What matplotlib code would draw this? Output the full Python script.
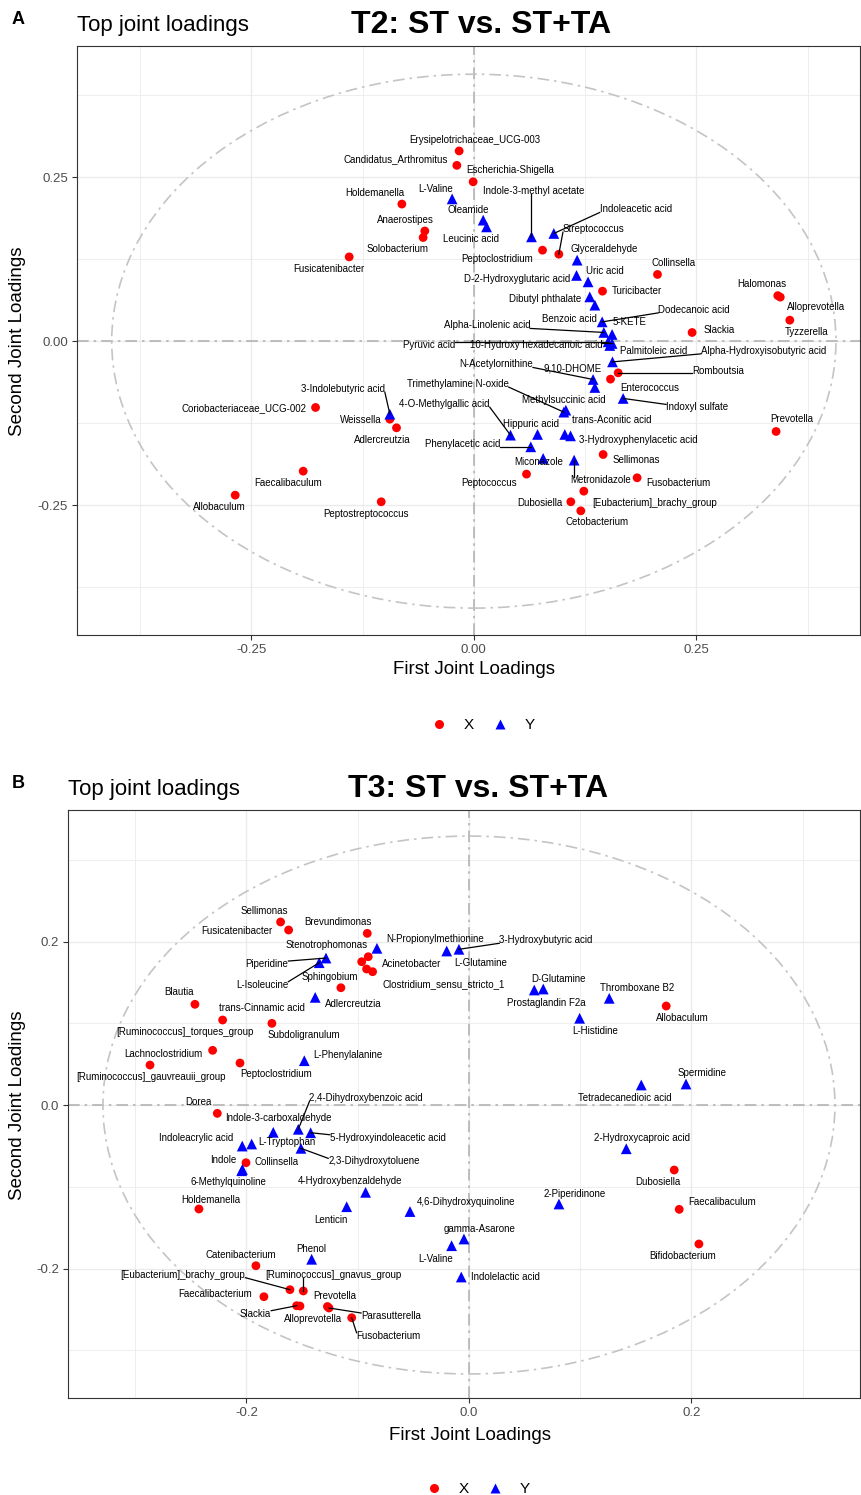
import numpy as np
import matplotlib
matplotlib.use("Agg")
import matplotlib.pyplot as plt
from matplotlib.lines import Line2D
from matplotlib.patches import Ellipse

plt.rcParams['font.family'] = ['Liberation Sans', 'DejaVu Sans']

# ---------------- Panel A: T2 ----------------
a_x_names = ['Erysipelotrichaceae_UCG-003', 'Candidatus_Arthromitus', 'Escherichia-Shigella',
             'Holdemanella', 'Anaerostipes', 'Solobacterium', 'Fusicatenibacter', 'Streptococcus',
             'Peptoclostridium', 'Collinsella', 'Turicibacter', 'Halomonas', 'Alloprevotella',
             'Tyzzerella', 'Slackia', 'Romboutsia', 'Enterococcus', 'Coriobacteriaceae_UCG-002',
             'Weissella', 'Adlercreutzia', 'Faecalibaculum', 'Allobaculum', 'Peptostreptococcus',
             'Peptococcus', 'Prevotella', 'Sellimonas', 'Fusobacterium',
             '[Eubacterium]_brachy_group', 'Dubosiella', 'Cetobacterium']
a_x_comp1 = [-0.0165, -0.0191, -0.0008, -0.0809, -0.0551, -0.0570, -0.1401, 0.0955,
             0.0772, 0.2064, 0.1446, 0.3416, 0.3444, 0.3551, 0.2453, 0.1622, 0.1536, -0.1779,
             -0.0944, -0.0869, -0.1918, -0.2682, -0.1041, 0.0592, 0.3397, 0.1453, 0.1835,
             0.1236, 0.1090, 0.1202]
a_x_comp2 = [0.290, 0.268, 0.243, 0.209, 0.168, 0.158, 0.1285, 0.1326,
             0.1387, 0.1017, 0.0762, 0.0694, 0.0671, 0.0320, 0.0132, -0.0483, -0.0579, -0.1011,
             -0.1189, -0.1321, -0.1982, -0.2348, -0.2449, -0.2027, -0.1377, -0.1728, -0.2083,
             -0.2287, -0.2449, -0.2587]

a_y_names = ['L-Valine', 'Oleamide', 'Leucinic acid', 'Indole-3-methyl acetate', 'Indoleacetic acid',
             'Glyceraldehyde', 'D-2-Hydroxyglutaric acid', 'Uric acid', 'Dibutyl phthalate',
             'Benzoic acid', 'Dodecanoic acid', 'Alpha-Linolenic acid', '5-KETE', 'Pyruvic acid',
             '10-Hydroxy hexadecanoic acid', 'Palmitoleic acid', 'Alpha-Hydroxyisobutyric acid',
             'N-Acetylornithine', '9,10-DHOME', 'Indoxyl sulfate', 'Trimethylamine N-oxide',
             'Methylsuccinic acid', '3-Indolebutyric acid', '4-O-Methylgallic acid', 'Hippuric acid',
             'trans-Aconitic acid', '3-Hydroxyphenylacetic acid', 'Phenylacetic acid', 'Miconazole',
             'Metronidazole']
a_y_comp1 = [-0.0244, 0.0105, 0.0143, 0.0648, 0.0899, 0.1161, 0.1154, 0.1284, 0.1303,
             0.1360, 0.1442, 0.1461, 0.1554, 0.1509, 0.1554, 0.1528, 0.1558, 0.1340, 0.1360,
             0.1678, 0.1011, 0.1034, -0.0944, 0.0412, 0.0716, 0.1022, 0.1087, 0.0640, 0.0779,
             0.1127]
a_y_comp2 = [0.2169, 0.1845, 0.1742, 0.1590, 0.1642, 0.1235, 0.1002, 0.0904, 0.0675,
             0.0549, 0.0294, 0.0133, 0.0102, -0.0010, -0.0035, -0.0066, -0.0316, -0.0584, -0.0706,
             -0.0873, -0.1082, -0.1052, -0.1113, -0.1433, -0.1422, -0.1422, -0.1444, -0.1611,
             -0.1788, -0.1814]

# label offsets (pixels, right / down) as placed by ggrepel
a_x_lab_dx = [16, -61, 37, -27, -19, -26, -20, 35, -45, 16, 34, -16, 36, 17, 27, 100, 39, -72,
              -29, -14, -15, -16, -15, -37, 16, 33, 41, 71, -31, 16]
a_x_lab_dy = [-11, -6, -12, -11, -11, 11, 12, -25, 9, -11, 0, -12, 10, 12, -2, -2, 9, 1,
              1, 12, 12, 12, 12, 9, -12, 6, 5, 12, 1, 11]
a_y_lab_dx = [-17, -15, -16, 2, 82, 27, -59, 17, -45, -25, 92, -117, 17, -179, -76, 44, 151,
              -97, -22, 74, -106, -2, -47, -66, -7, 47, 68, -68, -4, 27]
a_y_lab_dy = [-10, -10, 12, -46, -24, -11, 4, -11, 2, 14, -12, -7, -12, 3, 2, 6, -11,
              -15, -19, 9, -28, -10, -25, -31, -10, -14, 4, -3, 4, 20]
a_segments = ['Streptococcus', 'Romboutsia', 'Indole-3-methyl acetate', 'Indoleacetic acid',
              'Dodecanoic acid', 'Alpha-Linolenic acid', 'Pyruvic acid',
              '10-Hydroxy hexadecanoic acid', 'Alpha-Hydroxyisobutyric acid', 'N-Acetylornithine',
              'Indoxyl sulfate', 'Trimethylamine N-oxide', '3-Indolebutyric acid',
              '4-O-Methylgallic acid', 'Phenylacetic acid', 'Metronidazole']

# ---------------- Panel B: T3 ----------------
b_x_names = ['Sellimonas', 'Fusicatenibacter', 'Brevundimonas', 'Stenotrophomonas', 'Acinetobacter',
             'Sphingobium', 'Clostridium_sensu_stricto_1', 'Adlercreutzia', 'Blautia',
             '[Ruminococcus]_torques_group', 'Subdoligranulum', 'Lachnoclostridium',
             '[Ruminococcus]_gauvreauii_group', 'Peptoclostridium', 'Dorea', 'Collinsella',
             'Holdemanella', 'Catenibacterium', '[Eubacterium]_brachy_group',
             '[Ruminococcus]_gnavus_group', 'Faecalibacterium', 'Prevotella', 'Slackia',
             'Alloprevotella', 'Parasutterella', 'Fusobacterium', 'Allobaculum', 'Dubosiella',
             'Faecalibaculum', 'Bifidobacterium']
b_x_comp1 = [-0.1693, -0.1621, -0.0914, -0.0964, -0.0905, -0.0920, -0.0866, -0.1151, -0.2463,
             -0.2214, -0.1771, -0.2304, -0.2867, -0.2058, -0.2262, -0.2004, -0.2427, -0.1915,
             -0.1609, -0.1489, -0.1843, -0.1272, -0.1549, -0.1519, -0.1258, -0.1054, 0.1773,
             0.1845, 0.1890, 0.2067]
b_x_comp2 = [0.2239, 0.2141, 0.2100, 0.1753, 0.1814, 0.1664, 0.1631, 0.1435, 0.1232,
             0.1040, 0.0999, 0.0669, 0.0489, 0.0514, -0.0102, -0.0706, -0.1272, -0.1966,
             -0.2259, -0.2275, -0.2345, -0.2465, -0.2455, -0.2459, -0.2483, -0.2602, 0.1211,
             -0.0795, -0.1276, -0.1700]

b_y_names = ['N-Propionylmethionine', 'L-Glutamine', '3-Hydroxybutyric acid', 'Piperidine',
             'L-Isoleucine', 'trans-Cinnamic acid', 'L-Phenylalanine', 'D-Glutamine',
             'Prostaglandin F2a', 'Thromboxane B2', 'L-Histidine', 'Spermidine',
             'Tetradecanedioic acid', '2,4-Dihydroxybenzoic acid', 'Indole-3-carboxaldehyde',
             '5-Hydroxyindoleacetic acid', 'Indoleacrylic acid', 'L-Tryptophan',
             '2,3-Dihydroxytoluene', 'Indole', '6-Methylquinoline', '4-Hydroxybenzaldehyde',
             '2-Hydroxycaproic acid', '2-Piperidinone', 'Lenticin', '4,6-Dihydroxyquinoline',
             'gamma-Asarone', 'L-Valine', 'Indolelactic acid', 'Phenol']
b_y_comp1 = [-0.0827, -0.0200, -0.0090, -0.1285, -0.1346, -0.1382, -0.1480, 0.0668,
             0.0587, 0.1261, 0.0995, 0.1951, 0.1549, -0.1534, -0.1759, -0.1423, -0.2038, -0.1953,
             -0.1510, -0.2043, -0.2036, -0.0929, 0.1414, 0.0809, -0.1099, -0.0530, -0.0045,
             -0.0156, -0.0069, -0.1414]
b_y_comp2 = [0.1917, 0.1884, 0.1905, 0.1798, 0.1741, 0.1317, 0.0542, 0.1419,
             0.1407, 0.1305, 0.1061, 0.0257, 0.0245, -0.0297, -0.0334, -0.0339, -0.0502, -0.0477,
             -0.0530, -0.0804, -0.0789, -0.1068, -0.0535, -0.1211, -0.1244, -0.1303, -0.1639,
             -0.1721, -0.2104, -0.1887]

b_x_lab_dx = [-16, -52, -29, -35, 43, -37, 71, 12, -16, -38, 32, -49, 1, 36, -19, 31, 12, -15,
              -107, 30, -49, 7, -41, 13, 62, 37, 16, -16, 43, -16]
b_x_lab_dy = [-11, 1, -11, -17, 7, 8, 12, 16, -12, 12, 12, 4, 12, 11, -11, -1, -9, -11,
              -15, -16, -3, -11, 8, 13, 8, 18, 12, 12, -7, 12]
b_y_lab_dx = [58, 34, 87, -59, -57, -53, 44, 15, 12, 28, 16, 16, -16, 68, 5, 77, -46, 35,
              73, -18, -14, -16, 16, 16, -16, 56, 16, -16, 44, 0]
b_y_lab_dy = [-9, 12, -9, 6, 22, 11, -6, -10, 13, -10, 13, -11, 13, -31, -14, 5, -8, -2,
              13, -11, 12, -11, -11, -10, 13, -10, -10, 13, 0, -10]
b_segments = ['[Eubacterium]_brachy_group', '[Ruminococcus]_gnavus_group', 'Slackia',
              'Parasutterella', 'Fusobacterium', '3-Hydroxybutyric acid', 'Piperidine',
              'L-Isoleucine', '2,4-Dihydroxybenzoic acid', '5-Hydroxyindoleacetic acid',
              '2,3-Dihydroxytoluene']

W, H = 861, 1495
fig = plt.figure(figsize=(W / 100, H / 100), dpi=100)


def fx(px):
    return px / W


def fy(py):
    return 1 - py / H


seg_jobs = []


def draw_panel(ax, xlim, ylim, major, minor, fmt, radius, blocks, seg_names):
    ax.set_xlim(xlim)
    ax.set_ylim(ylim)
    ax.set_xticks(major)
    ax.set_yticks(major)
    ax.set_xticks(minor, minor=True)
    ax.set_yticks(minor, minor=True)
    labs = [fmt.format(t) for t in major]
    ax.set_xticklabels(labs)
    ax.set_yticklabels(labs)
    ax.grid(which='major', color='#EBEBEB', lw=1.0)
    ax.grid(which='minor', color='#EBEBEB', lw=0.6)
    ax.set_axisbelow(True)
    ax.tick_params(which='minor', length=0)
    ax.tick_params(which='major', length=3.5, width=0.8, color='#333333',
                   labelsize=9.5, labelcolor='#4D4D4D', pad=3)
    for sp in ax.spines.values():
        sp.set_color('#333333')
        sp.set_linewidth(0.8)

    ax.axhline(0, color='#B3B3B3', lw=1.2, ls=(0, (7, 3, 1.5, 3)), zorder=1)
    ax.axvline(0, color='#B3B3B3', lw=1.2, ls=(0, (7, 3, 1.5, 3)), zorder=1)
    ax.add_patch(Ellipse((0, 0), 2 * radius, 2 * radius, fill=False, ec='#C4C4C4',
                         lw=1.2, ls=(0, (7, 3, 1.5, 3)), zorder=1))

    for names, c1, c2, ldx, ldy, col, mk, sz in blocks:
        ax.scatter(c1, c2, s=sz, c=col, marker=mk, edgecolors='none', zorder=3)
        for n, x, y, dx, dy in zip(names, c1, c2, ldx, ldy):
            t = ax.annotate(n, (x, y), xytext=(dx, -dy), textcoords='offset pixels',
                            ha='center', va='center', fontsize=7, color='black', zorder=5)
            if n in seg_names:
                seg_jobs.append((ax, t, x, y))


axA = fig.add_axes([fx(77), fy(635), fx(860 - 77), (635 - 46) / H])
draw_panel(axA, (-0.446, 0.434), (-0.448, 0.450), [-0.25, 0.0, 0.25],
           [-0.375, -0.125, 0.125, 0.375], '{:.2f}', 0.407,
           [(a_x_names, a_x_comp1, a_x_comp2, a_x_lab_dx, a_x_lab_dy, 'red', 'o', 40),
            (a_y_names, a_y_comp1, a_y_comp2, a_y_lab_dx, a_y_lab_dy, 'blue', '^', 60)],
           a_segments)

axB = fig.add_axes([fx(68), fy(1398), fx(860 - 68), (1398 - 810) / H])
draw_panel(axB, (-0.3604, 0.3515), (-0.3584, 0.3609), [-0.2, 0.0, 0.2],
           [-0.3, -0.1, 0.1, 0.3], '{:.1f}', 0.329,
           [(b_x_names, b_x_comp1, b_x_comp2, b_x_lab_dx, b_x_lab_dy, 'red', 'o', 40),
            (b_y_names, b_y_comp1, b_y_comp2, b_y_lab_dx, b_y_lab_dy, 'blue', '^', 60)],
           b_segments)

# repel-style segments: from the point to the nearest edge of its label
fig.canvas.draw()
renderer = fig.canvas.get_renderer()
for ax, t, x, y in seg_jobs:
    bb = t.get_window_extent(renderer)
    px, py = ax.transData.transform((x, y))
    qx = min(max(px, bb.x0), bb.x1)
    qy = min(max(py, bb.y0 + 2), bb.y1 - 2)
    inv = ax.transData.inverted()
    (x0, y0), (x1, y1) = inv.transform([(px, py), (qx, qy)])
    ax.plot([x0, x1], [y0, y1], color='black', lw=0.9, zorder=4)

# titles, axis titles and legends
for top, letter, lx, tx in [(0, 'A', 77, 481), (764, 'B', 68, 478)]:
    fig.text(fx(18), fy(top + 24), letter, fontsize=13, fontweight='bold', ha='center',
             va='baseline')
    fig.text(fx(lx), fy(top + 31), 'Top joint loadings', fontsize=16, ha='left', va='baseline')
    fig.text(fx(tx), fy(top + 33), 'T2: ST vs. ST+TA' if letter == 'A' else 'T3: ST vs. ST+TA',
             fontsize=23, fontweight='bold', ha='center', va='baseline')

fig.text(fx(474), fy(670), 'First Joint Loadings', fontsize=13.5, ha='center', va='center')
fig.text(fx(470), fy(1435), 'First Joint Loadings', fontsize=13.5, ha='center', va='center')
fig.text(fx(18), fy(341), 'Second Joint Loadings', fontsize=13.5, ha='center', va='center',
         rotation=90)
fig.text(fx(18), fy(1105), 'Second Joint Loadings', fontsize=13.5, ha='center', va='center',
         rotation=90)

handles = [Line2D([], [], marker='o', color='red', ls='none', ms=6.5, mec='none'),
           Line2D([], [], marker='^', color='blue', ls='none', ms=7.5, mec='none')]
for cx, cy in [(483, 725), (478, 1489)]:
    fig.legend(handles, ['X', 'Y'], loc='center', bbox_to_anchor=(fx(cx), fy(cy)), ncol=2,
               frameon=False, fontsize=11, handlelength=1.0, handletextpad=1.1,
               columnspacing=1.2, borderpad=0.1)

fig.savefig('out.png', dpi=100)
